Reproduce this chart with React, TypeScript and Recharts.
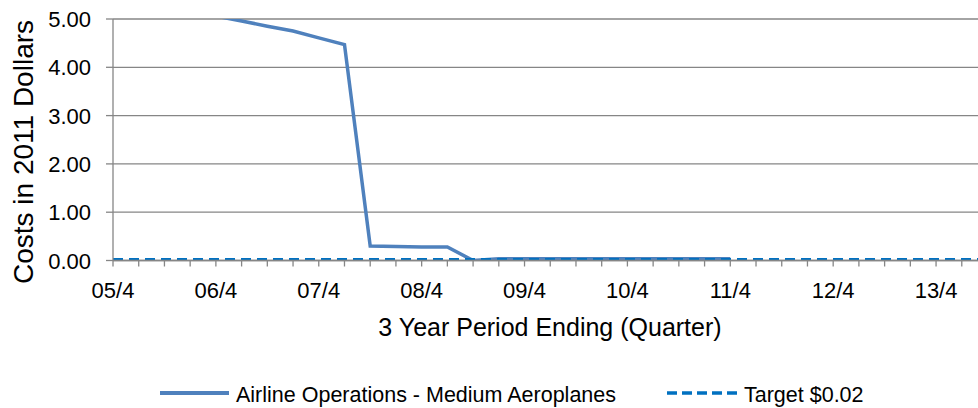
import React from 'react';
import { LineChart, Line, XAxis, YAxis, CartesianGrid } from 'recharts';

const quarters = [
  '05/4', '06/1', '06/2', '06/3', '06/4', '07/1', '07/2', '07/3', '07/4',
  '08/1', '08/2', '08/3', '08/4', '09/1', '09/2', '09/3', '09/4',
  '10/1', '10/2', '10/3', '10/4', '11/1', '11/2', '11/3', '11/4',
  '12/1', '12/2', '12/3', '12/4', '13/1', '13/2', '13/3', '13/4',
  '14/1', '14/2',
];
const shownLabels = ['05/4', '06/4', '07/4', '08/4', '09/4', '10/4', '11/4', '12/4', '13/4'];

const airlineOps: (number | null)[] = [
  6.4, 6.0, 5.6, 5.3, 5.06, 4.96, 4.85, 4.75, 4.61,
  4.47, 0.3, 0.29, 0.28, 0.28, 0.0, 0.035, 0.035,
  0.035, 0.035, 0.035, 0.035, 0.035, 0.035, 0.035, 0.035,
  null, null, null, null, null, null, null, null,
  null, null,
];
const target = [
  0.02, 0.02, 0.02, 0.02, 0.02, 0.02, 0.02, 0.02, 0.02,
  0.02, 0.02, 0.02, 0.02, 0.02, 0.02, 0.02, 0.02,
  0.02, 0.02, 0.02, 0.02, 0.02, 0.02, 0.02, 0.02,
  0.02, 0.02, 0.02, 0.02, 0.02, 0.02, 0.02, 0.02,
  0.02, 0.02,
];
const yTicks = [0, 1, 2, 3, 4, 5];

const seriesNames = ['Airline Operations - Medium Aeroplanes', 'Target $0.02'];
const yTitle = 'Costs in 2011 Dollars';
const xTitle = '3 Year Period Ending (Quarter)';

const data = quarters.map((q, i) => ({ q, ops: airlineOps[i], target: target[i] }));

const FONT = '"Liberation Sans", Arial, sans-serif';
const GRID = '#868686';
const BLUE1 = '#4F81BD';
const BLUE2 = '#0070C0';

const XTick = (props: any) => {
  const { x, payload } = props;
  if (!shownLabels.includes(payload.value)) return null;
  return (
    <text x={x} y={298} textAnchor="middle" fontFamily={FONT} fontSize={22} fill="#000">
      {payload.value}
    </text>
  );
};

const YTick = (props: any) => {
  const { y, payload } = props;
  return (
    <text x={91} y={y + 8} textAnchor="end" fontFamily={FONT} fontSize={22} fill="#000">
      {Number(payload.value).toFixed(2)}
    </text>
  );
};

const XTitle = () => (
  <text x={550} y={336} textAnchor="middle" fontFamily={FONT} fontSize={25} fill="#000">
    {xTitle}
  </text>
);

const YTitle = () => (
  <text
    transform="translate(33,152) rotate(-90)"
    x={0}
    y={0}
    textAnchor="middle"
    fontFamily={FONT}
    fontSize={28}
    fill="#000"
  >
    {yTitle}
  </text>
);

export default function App() {
  return (
    <div
      style={{
        position: 'fixed',
        left: 0,
        top: 0,
        width: 978,
        height: 408,
        overflow: 'hidden',
        background: '#fff',
      }}
    >
      <LineChart
        width={1030}
        height={408}
        data={data}
        margin={{ top: 19, right: 42.5, left: 1, bottom: 0.5 }}
      >
        <CartesianGrid vertical={false} stroke={GRID} strokeWidth={1.3} />
        <XAxis
          dataKey="q"
          interval={0}
          height={147}
          tick={<XTick />}
          tickSize={6}
          tickLine={{ stroke: GRID, strokeWidth: 1.3 }}
          axisLine={{ stroke: GRID, strokeWidth: 1.3 }}
          label={<XTitle />}
        />
        <YAxis
          width={112}
          domain={[0, 5]}
          ticks={yTicks}
          allowDataOverflow
          tick={<YTick />}
          tickSize={7}
          tickLine={{ stroke: GRID, strokeWidth: 1.3 }}
          axisLine={{ stroke: GRID, strokeWidth: 1.3 }}
          label={<YTitle />}
        />
        <Line
          type="linear"
          dataKey="ops"
          name={seriesNames[0]}
          stroke={BLUE1}
          strokeWidth={3.5}
          dot={false}
          isAnimationActive={false}
        />
        <Line
          type="linear"
          dataKey="target"
          name={seriesNames[1]}
          stroke={BLUE2}
          strokeWidth={3.3}
          strokeDasharray="10 6"
          dot={false}
          isAnimationActive={false}
        />
      </LineChart>
      <svg
        width={978}
        height={408}
        style={{ position: 'absolute', left: 0, top: 0, pointerEvents: 'none' }}
      >
        <line x1={160} y1={393} x2={229} y2={393} stroke={BLUE1} strokeWidth={4} />
        <text x={236} y={401.5} fontFamily={FONT} fontSize={21.5} fill="#000">
          {seriesNames[0]}
        </text>
        <line
          x1={667}
          y1={393}
          x2={738}
          y2={393}
          stroke={BLUE2}
          strokeWidth={3.5}
          strokeDasharray="10 5"
        />
        <text x={744} y={401.5} fontFamily={FONT} fontSize={21.5} fill="#000">
          {seriesNames[1]}
        </text>
      </svg>
    </div>
  );
}
